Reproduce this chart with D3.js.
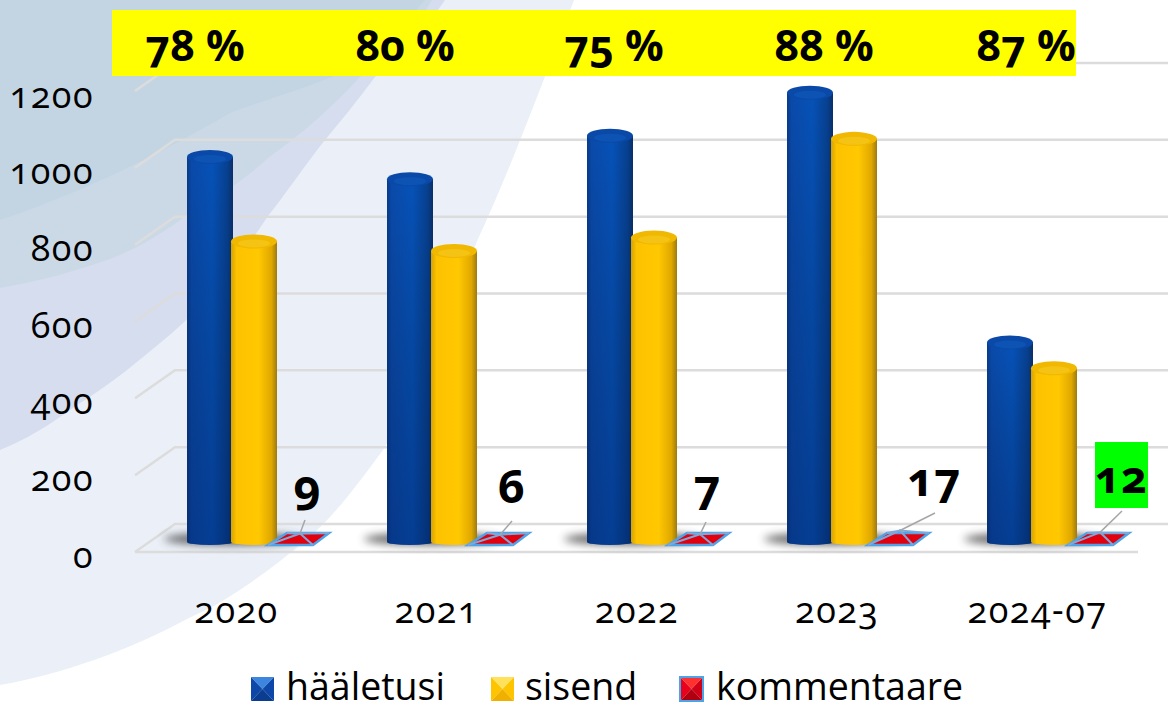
<!DOCTYPE html>
<html><head><meta charset="utf-8">
<script src="https://cdn.jsdelivr.net/npm/d3@7"></script>
<style>html,body{margin:0;padding:0;background:#fff}svg{display:block}
text{font-family:"Open Sans","Noto Sans",sans-serif;font-variant-numeric:oldstyle-nums;font-feature-settings:"onum" 1;fill:#000}</style>
</head><body><svg id="c" width="1168" height="704"></svg>
<script>
const categories=["2020","2021","2022","2023","2024-07"];
const seriesNames=["hääletusi","sisend","kommentaare"];
const haaletusi=[1005,947,1060,1172,522];
const sisend=[785,760,795,1052,455];
const kommentaare=[9,6,7,17,12];
const percentLabels=["78 %","80 %","75 %","88 %","87 %"];
const yTicks=[0,200,400,600,800,1000,1200];
const W=1168,H=704;
const svg=d3.select("#c");
const defs=svg.append("defs");
function cyl(id,stops){const g=defs.append("linearGradient").attr("id",id);stops.forEach(s=>g.append("stop").attr("offset",s[0]).attr("stop-color",s[1]));}
cyl("gb",[[0,"#083a8a"],[.1,"#0a4aaa"],[.55,"#0652b8"],[.88,"#07408f"],[1,"#0a2f6a"]]);
cyl("gy",[[0,"#d6a200"],[.12,"#fdc200"],[.6,"#ffc800"],[.88,"#e0a700"],[1,"#9b7a10"]]);
const shade=defs.append("linearGradient").attr("id","shade").attr("x1",0).attr("x2",0).attr("y1",0).attr("y2",1);
shade.append("stop").attr("offset",0).attr("stop-color","#000").attr("stop-opacity",0);
shade.append("stop").attr("offset",1).attr("stop-color","#001040").attr("stop-opacity",.3);
const f=defs.append("filter").attr("id","blur").attr("x","-30%").attr("y","-150%").attr("width","160%").attr("height","400%");
f.append("feGaussianBlur").attr("stdDeviation",4);
const bg=svg.append("g");
bg.append("rect").attr("width",W).attr("height",H).attr("fill","#fff");
bg.append("path").attr("d","M0,0H574C540,90 510,170 478,239C445,320 415,400 383,450C350,495 330,520 306,540C270,570 230,600 191,617C130,650 60,675 0,685Z").attr("fill","#ebf0f8");
bg.append("path").attr("d","M0,0H445C425,30 400,55 375,77C358,100 340,122 325,140C305,165 285,195 268,216C235,265 205,305 172,333C140,360 110,385 77,405C50,425 25,440 0,450Z").attr("fill","#d5ddee");
bg.append("path").attr("d","M0,0H432C415,30 390,55 360,77C330,110 300,135 268,158C245,180 215,198 191,212C165,232 140,247 115,257C75,272 35,282 0,288Z").attr("fill","#cbd9e7");
bg.append("path").attr("d","M0,0H425C400,30 375,50 345,72C300,90 265,100 230,113C150,160 75,195 0,220Z").attr("fill","#c3d5e3");

const x0=d3.scaleBand().domain(categories).range([135,1135]);
const y=d3.scaleLinear().domain([0,1200]).range([524,63]);
const gridX0=175,floorDx=-40,floorDy=28,barDy=19,barOff=52;
const grid=svg.append("g").attr("fill","none");
yTicks.forEach(t=>{
 grid.append("path").attr("d",`M${gridX0+floorDx},${y(t)+floorDy}L${gridX0},${y(t)}H${W}`).attr("stroke","#dcdcdc").attr("stroke-width",2.5);
});
grid.append("path").attr("d",`M${gridX0+floorDx},${y(0)+floorDy}H1138`).attr("stroke","#dcdcdc").attr("stroke-width",2.5);

const yAxis=d3.axisLeft(d3.scaleLinear().domain([0,1200]).range([555.5,95.5])).tickValues(yTicks).tickSize(0).tickPadding(0).tickFormat(d3.format("d"));
const ya=svg.append("g").attr("transform","translate(94,0)").call(yAxis);
ya.select(".domain").remove();
ya.selectAll("text").attr("font-size",36).attr("style","letter-spacing:1.5px");

const bw=46,ry=7;
categories.forEach((c,i)=>{
 const g=svg.append("g").attr("transform",`translate(${x0(c)},0)`);
 const bx=barOff, by=y(0)+barDy-1;
 g.append("ellipse").attr("cx",bx+45).attr("cy",by-3).attr("rx",68).attr("ry",6).attr("fill","#444").attr("opacity",.85).attr("filter","url(#blur)");
 [[haaletusi[i],"gb","#1566cc",0],[sisend[i],"gy","#ffd83a",44]].forEach(([v,grad,top,off])=>{
  const l=bx+off,r=l+bw,t=y(v)+barDy;
  const body=`M${l},${t}V${by}A${bw/2},3 0 0 0 ${r},${by}V${t}Z`;
  g.append("path").attr("d",body).attr("fill",`url(#${grad})`);
  if(grad=="gb")g.append("path").attr("d",body).attr("fill","url(#shade)");
  g.append("ellipse").attr("cx",l+bw/2).attr("cy",t).attr("rx",bw/2).attr("ry",ry).attr("fill",grad=="gb"?"#0a49a8":"#f0b800");
  g.append("ellipse").attr("cx",l+bw/2).attr("cy",t+2).attr("rx",bw/2-7).attr("ry",ry-3).attr("fill",top).attr("opacity",.35);
 });
 const bl=545;
 const a=[bx+81,bl],b=[bx+100,bl-12],cc=[bx+142,bl-12],d=[bx+126,bl];
 const apex=[bx+113,y(kommentaare[i])+barDy-6];
 g.append("path").attr("d",`M${a}L${b}L${cc}L${d}Z`).attr("fill","#e2000f").attr("stroke","#4da3e8").attr("stroke-width",2.5);
 g.append("path").attr("d",`M${a}L${apex}L${cc}M${b}L${apex}L${d}`).attr("stroke","#7fa8d8").attr("stroke-width",2).attr("fill","none");
});
// x labels
const xa=svg.append("g").attr("transform","translate(0,623)").call(d3.axisBottom(d3.scalePoint().domain(categories).range([236,1037])).tickSize(0).tickPadding(0));
xa.select(".domain").remove();
xa.selectAll("text").attr("dy",0).attr("font-size",36).attr("style","letter-spacing:1.5px");

// band
svg.append("rect").attr("x",112).attr("y",10).attr("width",964).attr("height",66).attr("fill","#ffff00");
const pctX=[195,405,614,824,1026];
percentLabels.forEach((t,i)=>svg.append("text").text(t).attr("x",pctX[i]).attr("y",61).attr("text-anchor","middle").attr("font-size",43).attr("font-weight",700));

// comment labels
const lblX=[307,511,707,934,1121], lblY=[503,503,503,496,493], sizes=[47,47,47,46,45];
const leadTop=[[305,520],[512,521],[706,522],[935,513],[1122,511]];
svg.append("rect").attr("x",1095).attr("y",442).attr("width",53).attr("height",66).attr("fill","#00ff00");
kommentaare.forEach((v,i)=>{
 const cxp=x0(categories[i])+barOff+113;
 svg.append("path").attr("d",`M${cxp},${y(v)+barDy-6}L${leadTop[i]}`).attr("stroke","#a6a6a6").attr("stroke-width",1.5).attr("fill","none");
 svg.append("text").text(v).attr("x",lblX[i]).attr("y",lblY[i]).attr("text-anchor","middle").attr("font-size",sizes[i]).attr("font-weight",700);
});

// legend
const legX=[251,491,680], txtX=[286,525,716];
const cols=[["#0d47a8","#3d86e0","#0d47a8","#0a3c90"],["#ffc400","#ffe25a","#ffc400","#f0b000"],["#e8001c","#ff3030","#d00018","#b00010"]];
seriesNames.forEach((s,i)=>{
 const g=svg.append("g").attr("transform",`translate(${legX[i]},677)`),w=23,h=24,m=w/2;
 [[`M0,0H${w}L${m},${h/2}Z`,1],[`M0,0V${h}L${m},${h/2}Z`,0],[`M${w},0V${h}L${m},${h/2}Z`,2],[`M0,${h}H${w}L${m},${h/2}Z`,3]].forEach(p=>g.append("path").attr("d",p[0]).attr("fill",cols[i][p[1]]));
 if(i==2)g.append("rect").attr("width",w).attr("height",h).attr("fill","none").attr("stroke","#4da3e8").attr("stroke-width",2);
 svg.append("text").text(s).attr("x",txtX[i]).attr("y",700).attr("font-size",37.5);
});
</script></body></html>
